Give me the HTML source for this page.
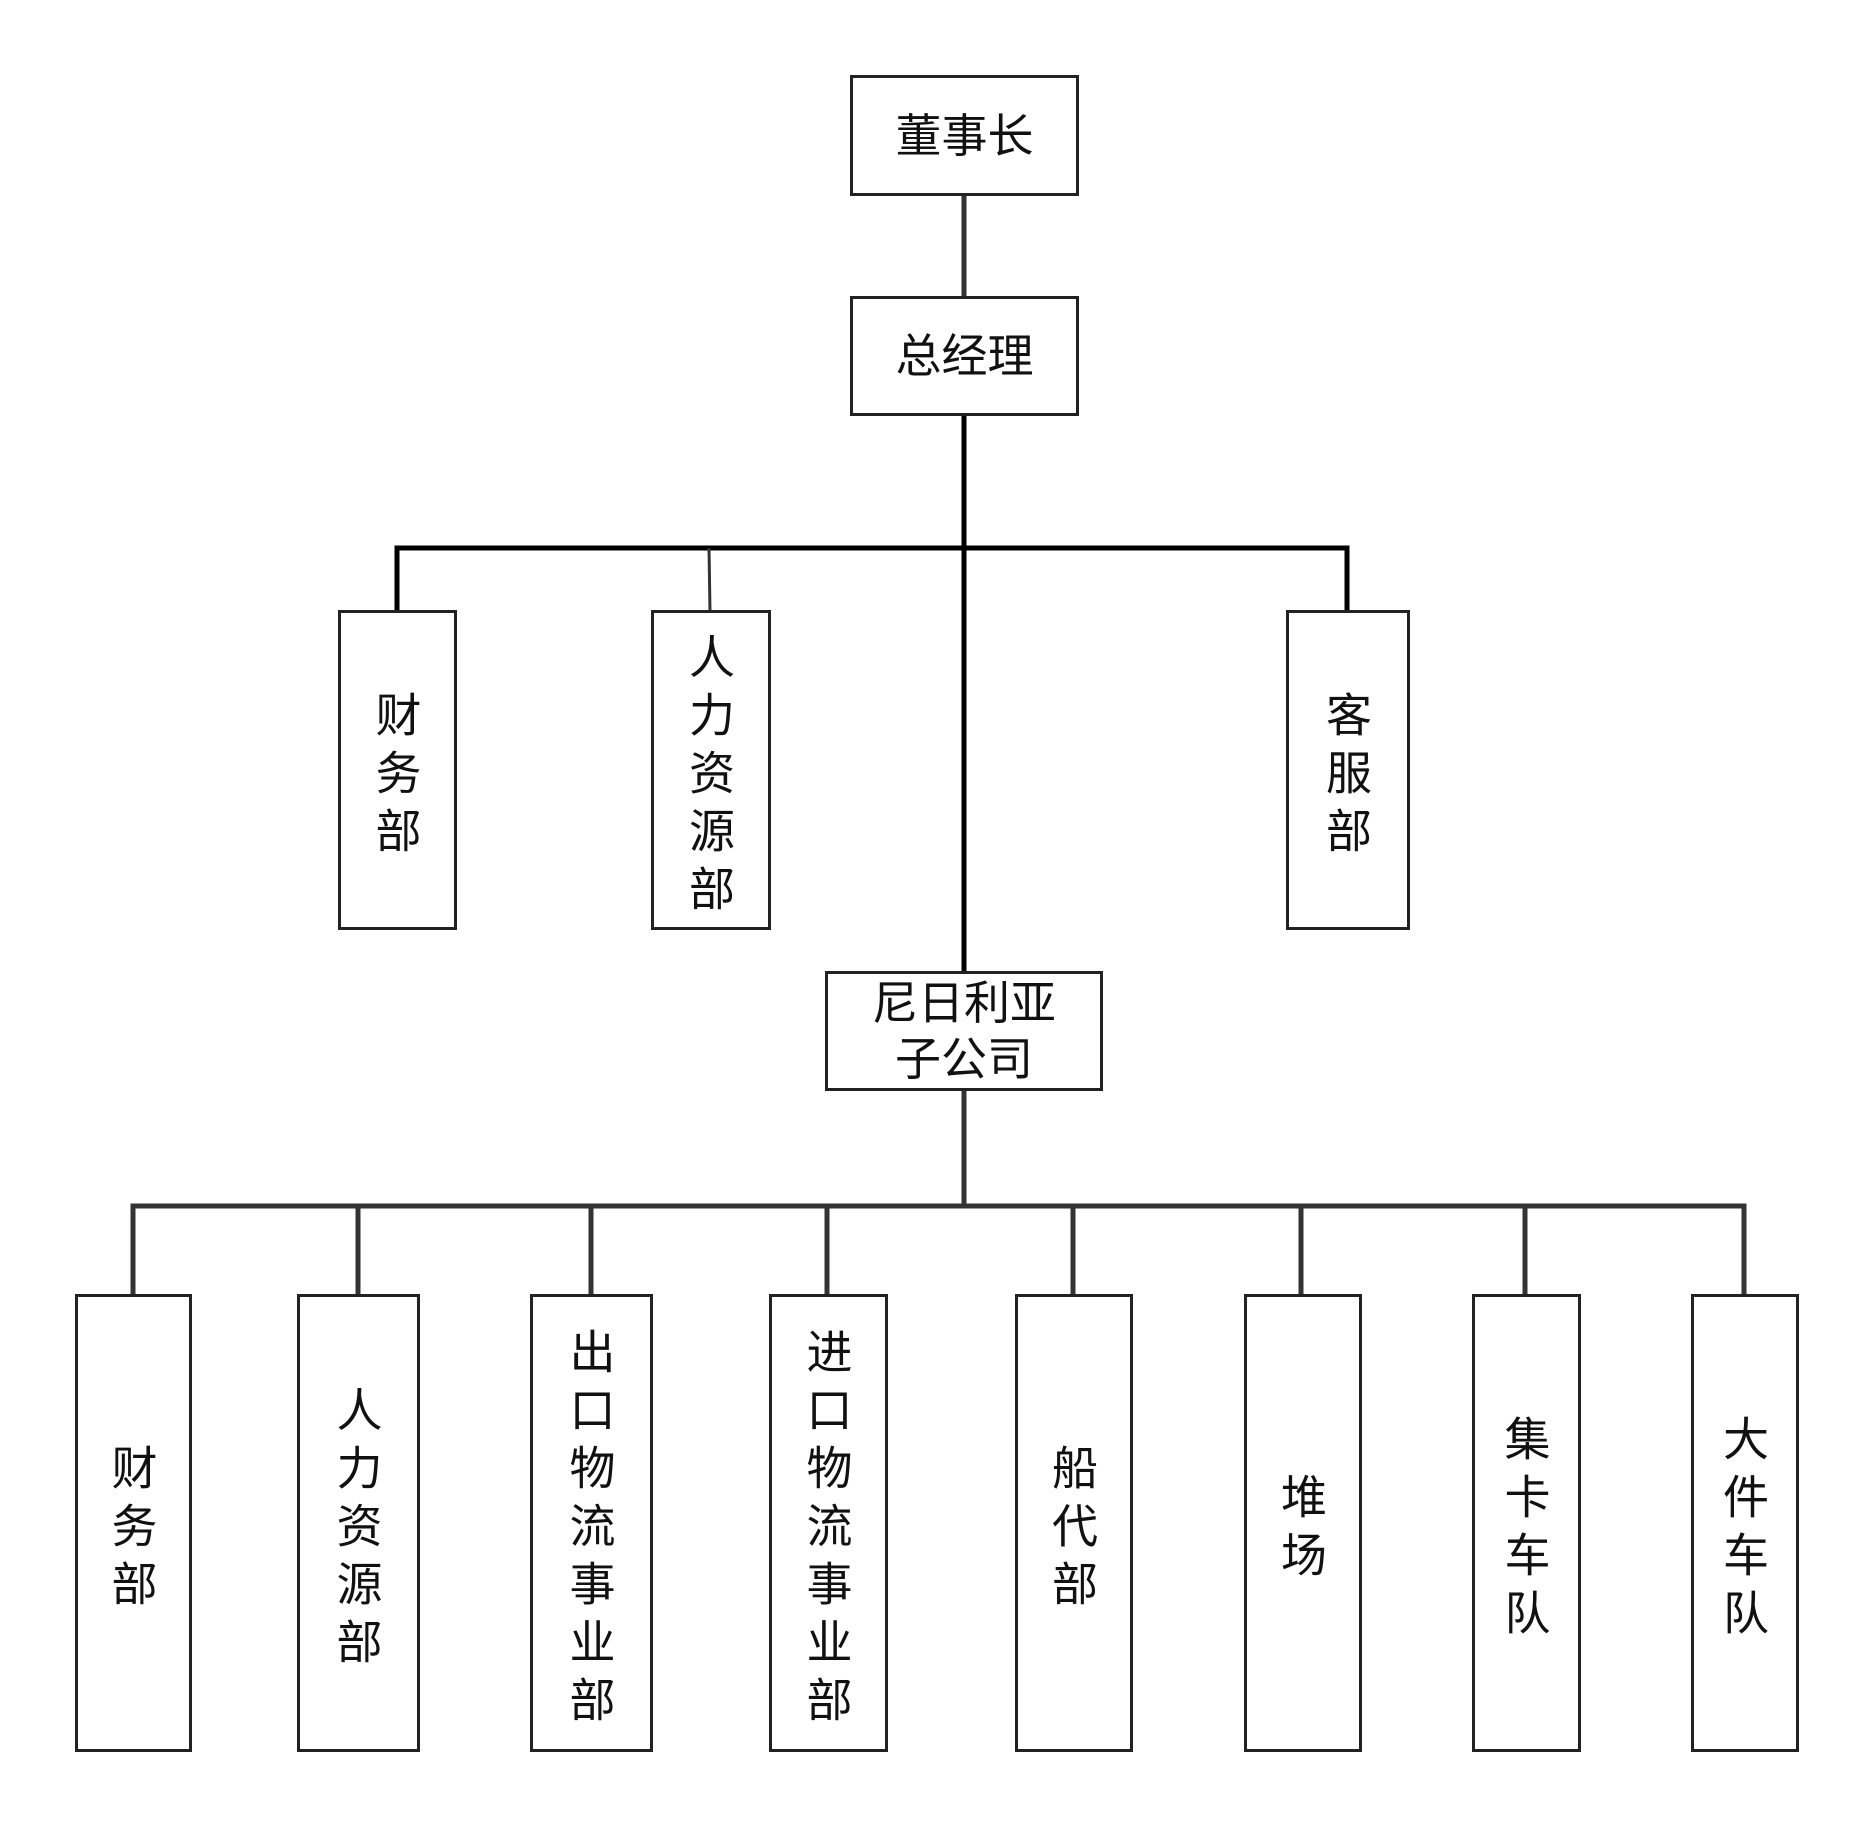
<!DOCTYPE html>
<html><head><meta charset="utf-8"><style>
body{margin:0;background:#fff;}
.b{position:absolute;border:3px solid #222;box-sizing:border-box;background:#fff;display:flex;align-items:center;justify-content:center;text-align:center;font-family:"Liberation Sans","Noto Sans CJK SC",sans-serif;font-size:46px;line-height:56px;color:#111;}
.v{writing-mode:vertical-rl;letter-spacing:12px;padding-top:16px;padding-left:0;padding-right:4px;}
</style></head><body>
<div style="position:relative;width:1872px;height:1827px;overflow:hidden">
<svg width="1872" height="1827" style="position:absolute;left:0;top:0">
<g stroke="#000" stroke-width="5" fill="none">
<line x1="964" y1="195" x2="964" y2="296" stroke="#333"/>
<line x1="964" y1="415" x2="964" y2="971"/>
<polyline points="397,612 397,548 1347,548 1347,612"/>
<line x1="709" y1="548" x2="710" y2="612" stroke="#333" stroke-width="3"/>
</g>
<g stroke="#333" stroke-width="5" fill="none">
<line x1="964" y1="1090" x2="964" y2="1206"/>
<polyline points="133,1294 133,1206 1744,1206 1744,1294"/>
<line x1="358" y1="1206" x2="358" y2="1294"/>
<line x1="591" y1="1206" x2="591" y2="1294"/>
<line x1="827" y1="1206" x2="827" y2="1294"/>
<line x1="1073" y1="1206" x2="1073" y2="1294"/>
<line x1="1301" y1="1206" x2="1301" y2="1294"/>
<line x1="1525" y1="1206" x2="1525" y2="1294"/>
</g>
</svg>
<div class="b" style="left:850px;top:75px;width:229px;height:121px">董事长</div>
<div class="b" style="left:850px;top:296px;width:229px;height:120px">总经理</div>
<div class="b v" style="left:338px;top:610px;width:119px;height:320px">财务部</div>
<div class="b v" style="left:651px;top:610px;width:120px;height:320px">人力资源部</div>
<div class="b v" style="left:1286px;top:610px;width:124px;height:320px">客服部</div>
<div class="b" style="left:825px;top:971px;width:278px;height:120px">尼日利亚<br>子公司</div>
<div class="b v" style="left:75px;top:1294px;width:117px;height:458px">财务部</div>
<div class="b v" style="left:297px;top:1294px;width:123px;height:458px">人力资源部</div>
<div class="b v" style="left:530px;top:1294px;width:123px;height:458px">出口物流事业部</div>
<div class="b v" style="left:769px;top:1294px;width:119px;height:458px">进口物流事业部</div>
<div class="b v" style="left:1015px;top:1294px;width:118px;height:458px">船代部</div>
<div class="b v" style="left:1244px;top:1294px;width:118px;height:458px">堆场</div>
<div class="b v" style="left:1472px;top:1294px;width:109px;height:458px">集卡车队</div>
<div class="b v" style="left:1691px;top:1294px;width:108px;height:458px">大件车队</div>
</div>
</body></html>
